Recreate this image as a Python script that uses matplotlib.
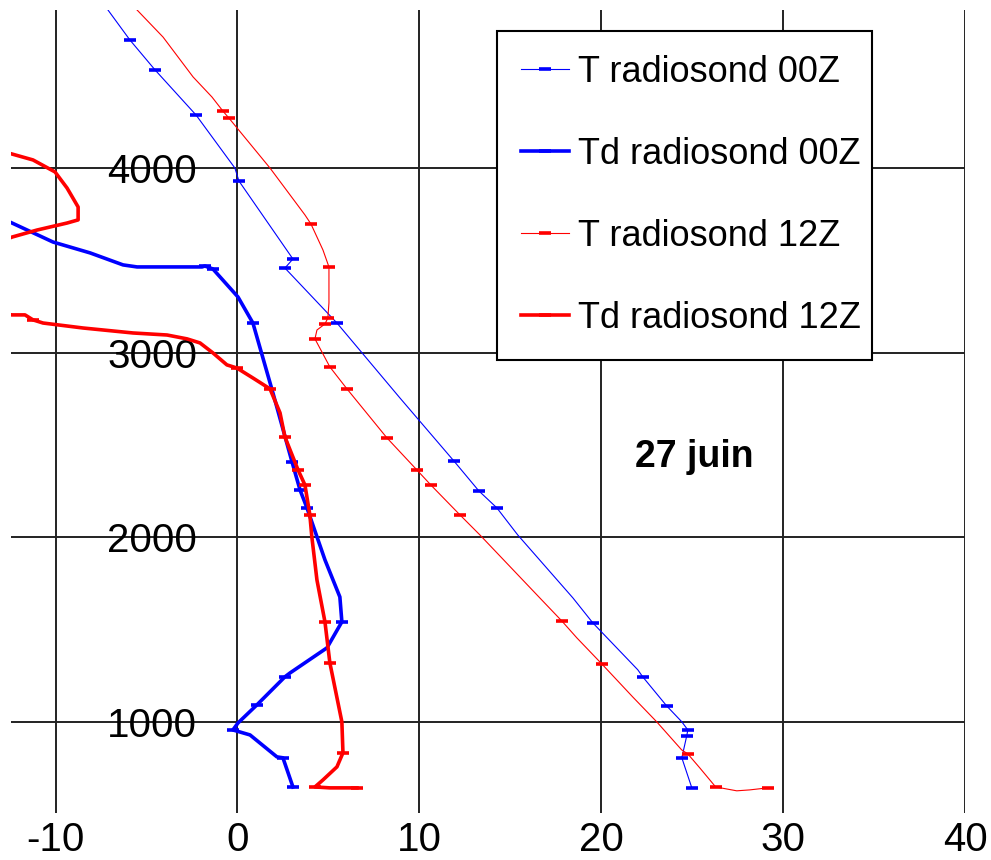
import matplotlib
matplotlib.use("Agg")
import matplotlib.pyplot as plt

plt.rcParams['font.family'] = ['Liberation Sans', 'DejaVu Sans']
plt.rcParams['axes.unicode_minus'] = False

# T radiosonde 00Z (temperature, height)
t_00 = [-7.72, -7.12, -5.91, -4.53, -2.28, -0.14, 0.08, 3.05, 2.61, 5.47, 8.93,
        11.90, 13.27, 14.26, 15.41, 18.44, 19.54, 22.01, 22.28, 23.60, 24.43,
        24.76, 24.70, 24.43, 24.98]
z_t00 = [4939, 4858, 4695, 4533, 4289, 4001, 3931, 3508, 3459, 3161, 2755,
         2413, 2251, 2159, 2012, 1671, 1535, 1281, 1243, 1085, 999,
         955, 923, 804, 641]
mk_t00 = [2, 3, 4, 6, 7, 8, 9, 11, 12, 13, 16, 18, 19, 21, 22, 23, 24]

# Td radiosonde 00Z
td_00 = [-13.60, -12.39, -10.14, -8.10, -6.29, -5.52, -1.95, -1.79, -1.35, 0.03,
         0.85, 1.95, 3.00, 3.44, 3.82, 4.81, 5.63, 5.74, 4.92, 2.89, 2.61,
         1.07, 0.03, -0.25, 0.69, 2.17, 2.50, 3.05]
z_td00 = [3758, 3703, 3600, 3541, 3476, 3465, 3465, 3470, 3454, 3302,
          3161, 2782, 2408, 2256, 2159, 1877, 1676, 1541, 1400, 1264, 1243,
          1091, 993, 955, 928, 809, 804, 646]
mk_td00 = [7, 8, 10, 12, 13, 14, 17, 20, 21, 23, 26, 27]

# T radiosonde 12Z
t_12 = [-6.29, -5.52, -4.09, -2.44, -1.40, -0.80, -0.47, 1.79, 3.71, 4.04, 4.70,
        5.03, 5.03, 4.97, 4.81, 4.37, 4.26, 5.08, 6.02, 8.22, 9.86, 10.63,
        12.23, 13.33, 16.62, 17.83, 18.66, 20.03, 21.73, 23.05, 24.42, 24.76,
        25.42, 26.29, 27.45, 28.16, 29.15]
z_t12 = [4939, 4858, 4711, 4495, 4386, 4310, 4272, 4001, 3747, 3698, 3557,
         3465, 3270, 3188, 3156, 3123, 3075, 2923, 2804, 2538, 2365, 2283,
         2121, 2012, 1671, 1546, 1454, 1313, 1134, 999, 847, 825,
         749, 646, 625, 630, 641]
mk_t12 = [5, 6, 9, 11, 13, 14, 16, 17, 18, 19, 20, 21, 22, 25, 27, 31, 33, 36]

# Td radiosonde 12Z
td_12 = [-13.60, -12.39, -11.24, -10.03, -9.37, -8.76, -8.76, -9.37, -11.02,
         -12.39, -14.15, -14.15, -12.39, -11.68, -11.24, -10.69, -8.49, -5.74,
         -3.87, -2.77, -2.06, -1.35, -0.58, -0.03, 0.85, 1.79, 2.34, 2.61,
         3.33, 3.71, 3.98, 4.09, 4.37, 4.81, 5.08, 5.74, 5.80, 5.47, 4.70,
         4.26, 5.08, 6.57]
z_td12 = [4110, 4077, 4045, 3980, 3893, 3790, 3720, 3703, 3665,
          3627, 3557, 3221, 3205, 3205, 3178, 3161, 3134, 3107,
          3096, 3075, 3053, 2999, 2934, 2917, 2863, 2804, 2674, 2543,
          2365, 2283, 2121, 2001, 1768, 1541, 1319, 999, 831, 755, 684,
          646, 641, 641]
mk_td12 = [14, 23, 25, 27, 28, 29, 30, 33, 34, 36, 39, 41]

x_ticks = [-10, 0, 10, 20, 30, 40]
y_ticks = [1000, 2000, 3000, 4000]

fig = plt.figure(figsize=(9.91, 8.6), dpi=100)
ax = fig.add_axes([0.0111, 0.0547, 0.9627, 0.9337])

ax.plot(t_00, z_t00, color='#0000ff', lw=0.8, marker='_', ms=9, mew=2.6,
        markevery=mk_t00, label='T radiosond 00Z')
ax.plot(td_00, z_td00, color='#0000ff', lw=2.6, marker='_', ms=9, mew=2.6,
        markevery=mk_td00, label='Td radiosond 00Z')
ax.plot(t_12, z_t12, color='#ff0000', lw=0.8, marker='_', ms=9, mew=2.6,
        markevery=mk_t12, label='T radiosond 12Z')
ax.plot(td_12, z_td12, color='#ff0000', lw=2.6, marker='_', ms=9, mew=2.6,
        markevery=mk_td12, label='Td radiosond 12Z')

ax.set_xlim(-12.45, 40)
ax.set_ylim(505, 4858)
ax.set_xticks(x_ticks)
ax.set_yticks(y_ticks)
ax.grid(True, color='#222222', lw=1.4)
ax.set_axisbelow(True)
for s in ax.spines.values():
    s.set_visible(False)
ax.tick_params(axis='both', length=0, labelsize=29)
ax.tick_params(axis='x', pad=6)
ax.tick_params(axis='y', pad=-134)

ax.text(25.1, 2435, '27 juin', fontsize=27, fontweight='bold',
        ha='center', va='center')

leg = ax.legend(loc='upper left', bbox_to_anchor=(0.509, 0.5, 0.394, 0.474),
                mode='expand', borderaxespad=0, fontsize=26,
                handlelength=1.35, handletextpad=0.25, borderpad=0.665,
                labelspacing=1.30, fancybox=False, framealpha=1,
                edgecolor='black', numpoints=1)
leg.get_frame().set_linewidth(1.5)

fig.savefig('out.png', dpi=100)
